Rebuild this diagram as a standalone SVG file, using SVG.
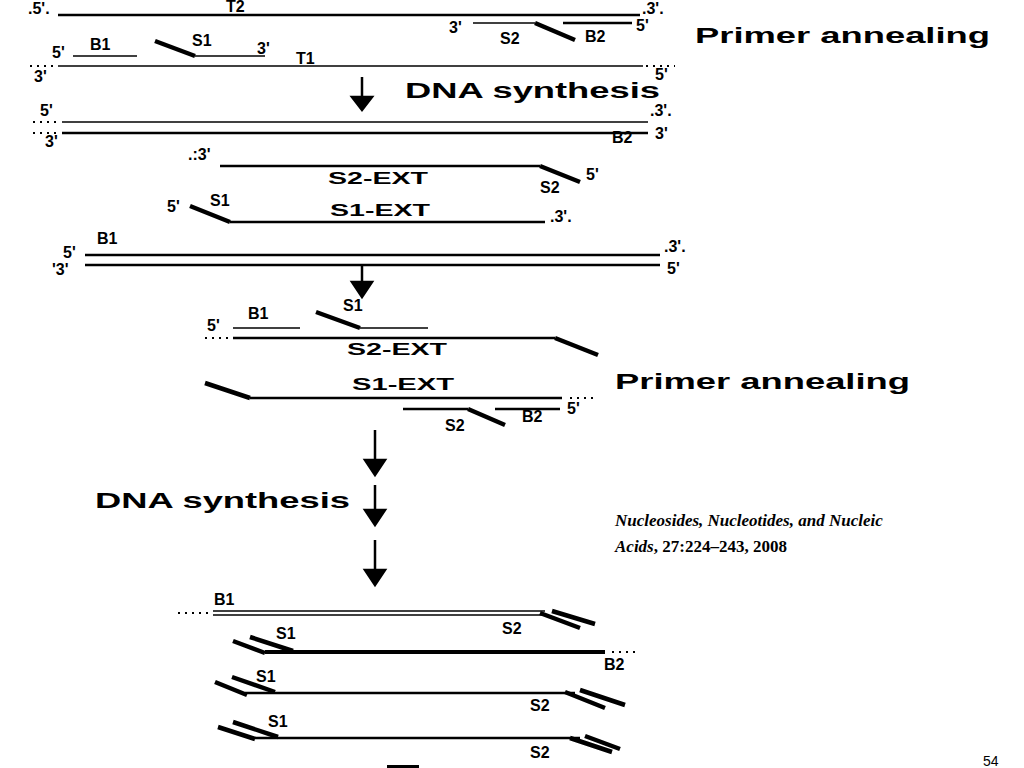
<svg xmlns="http://www.w3.org/2000/svg" width="1024" height="768" viewBox="0 0 1024 768">
<style>
.l{font-family:"Liberation Sans",Arial,sans-serif;font-weight:bold;font-size:16px;fill:#000}
.b{font-family:"Liberation Sans",Arial,sans-serif;font-weight:bold;font-size:22px;fill:#000}
.k{stroke:#000;fill:none;stroke-width:2.5}
.t{stroke:#000;fill:none;stroke-width:1.5}
.p{stroke:#000;fill:none;stroke-width:4.5}
.d{stroke:#000;fill:none;stroke-width:2;stroke-dasharray:2 5}
.c{font-family:"Liberation Serif","Times New Roman",serif;font-weight:bold;font-size:17px;fill:#000}
</style>
<rect width="1024" height="768" fill="#fff"/>
<g id="arrows" stroke="#000" stroke-width="2.5">
<line x1="362" y1="77" x2="362" y2="100"/><path d="M352,97 L372,97 L362,110 Z"/>
<line x1="362" y1="265" x2="362" y2="285"/><path d="M352,282 L372,282 L362,297 Z"/>
<line x1="375" y1="430" x2="375" y2="462"/><path d="M365,460 L385,460 L375,475 Z"/>
<line x1="375" y1="485" x2="375" y2="512"/><path d="M365,510 L385,510 L375,525 Z"/>
<line x1="375" y1="540" x2="375" y2="572"/><path d="M365,570 L385,570 L375,585 Z"/>
</g>
<g id="step1">
<line class="k" x1="58" y1="15" x2="640" y2="15"/>
<text class="l" x="28" y="14">.5'.</text><text class="l" x="226" y="12">T2</text><text class="l" x="642" y="14">.3'.</text>
<path class="t" d="M473,23 H535"/><path class="p" d="M535,23 L575,40"/><path class="k" d="M563,23 H632"/>
<text class="l" x="449" y="33">3'</text><text class="l" x="500" y="44">S2</text><text class="l" x="585" y="42">B2</text><text class="l" x="636" y="31">5'</text>
<path class="t" d="M73,56 H137"/><path class="p" d="M155,41 L195,56"/><path class="t" d="M195,56 H265"/>
<text class="l" x="52" y="58">5'</text><text class="l" x="90" y="50">B1</text><text class="l" x="192" y="46">S1</text><text class="l" x="257" y="54">3'</text><text class="l" x="296" y="64">T1</text>
<line class="t" x1="58" y1="66" x2="643" y2="66"/>
<path class="d" d="M30,66 H55 M646,66 H675"/>
<text class="l" x="34" y="82">3'</text><text class="l" x="655" y="80">5'</text>
<text class="b" x="695" y="43" textLength="295" lengthAdjust="spacingAndGlyphs">Primer annealing</text>
<text class="b" x="405" y="98" textLength="255" lengthAdjust="spacingAndGlyphs">DNA synthesis</text>
</g>
<g id="step2">
<line class="t" x1="62" y1="122" x2="648" y2="122"/><line class="k" x1="62" y1="133" x2="648" y2="133"/>
<path class="d" d="M33,122 H58 M33,133 H58"/>
<text class="l" x="40" y="116">5'</text><text class="l" x="45" y="147">3'</text><text class="l" x="650" y="116">.3'.</text><text class="l" x="655" y="139">3'</text><text class="l" x="612" y="143">B2</text>
<text class="l" x="188" y="160">.:3'</text>
<path class="k" d="M220,166 H540"/><path class="p" d="M540,166 L580,182"/>
<text class="l" x="328" y="184" textLength="100" lengthAdjust="spacingAndGlyphs">S2-EXT</text>
<text class="l" x="586" y="180">5'</text><text class="l" x="540" y="193">S2</text>
<text class="l" x="167" y="212">5'</text><text class="l" x="210" y="206">S1</text>
<path class="p" d="M190,206 L230,222"/><path class="k" d="M230,222 H545"/>
<text class="l" x="330" y="216" textLength="100" lengthAdjust="spacingAndGlyphs">S1-EXT</text><text class="l" x="550" y="222">.3'.</text>
<text class="l" x="97" y="244">B1</text>
<line class="k" x1="85" y1="255" x2="660" y2="255"/><line class="k" x1="85" y1="265" x2="660" y2="265"/>
<text class="l" x="63" y="258">5'</text><text class="l" x="52" y="275">'3'</text><text class="l" x="664" y="252">.3'.</text><text class="l" x="667" y="274">5'</text>
</g>
<g id="step3">
<text class="l" x="343" y="311">S1</text>
<path class="t" d="M233,328 H300"/><text class="l" x="207" y="331">5'</text><text class="l" x="248" y="319">B1</text>
<path class="p" d="M316,312 L360,328"/><path class="t" d="M360,328 H428"/>
<path class="k" d="M233,338 H555"/><path class="p" d="M555,338 L598,355"/><path class="d" d="M205,338 H230"/>
<text class="l" x="347" y="355" textLength="100" lengthAdjust="spacingAndGlyphs">S2-EXT</text>
<path class="p" d="M205,383 L250,398"/><path class="k" d="M250,398 H562"/><path class="d" d="M570,398 H597"/>
<text class="l" x="352" y="390" textLength="102" lengthAdjust="spacingAndGlyphs">S1-EXT</text>
<path class="k" d="M403,409 H468"/><path class="p" d="M468,409 L505,425"/><path class="k" d="M495,409 H560"/>
<text class="l" x="567" y="414">5'</text><text class="l" x="445" y="431">S2</text><text class="l" x="522" y="422">B2</text>
<text class="b" x="615" y="389" textLength="295" lengthAdjust="spacingAndGlyphs">Primer annealing</text>
<text class="b" x="95" y="508" textLength="255" lengthAdjust="spacingAndGlyphs">DNA synthesis</text>
</g>
<g id="citation">
<text class="c" x="615" y="526" font-style="italic">Nucleosides, Nucleotides, and Nucleic</text>
<text class="c" x="615" y="552"><tspan font-style="italic">Acids</tspan>, 27:224–243, 2008</text>
</g>
<g id="products">
<text class="l" x="214" y="605">B1</text>
<line class="t" x1="213" y1="611" x2="545" y2="611"/><line class="t" x1="213" y1="615" x2="545" y2="615"/>
<path class="d" d="M178,613 H210"/>
<path class="p" d="M540,613 L580,628 M552,611 L595,624"/>
<text class="l" x="502" y="634">S2</text>
<text class="l" x="276" y="639">S1</text>
<path class="p" d="M233,641 L265,653 M250,637 L293,651"/>
<line x1="265" y1="652" x2="605" y2="652" stroke="#000" stroke-width="4"/>
<path class="d" d="M612,652 H640"/><text class="l" x="604" y="670">B2</text>
<text class="l" x="256" y="682">S1</text>
<path class="p" d="M215,682 L247,695 M232,677 L275,692"/>
<line class="k" x1="245" y1="693" x2="575" y2="693"/>
<path class="p" d="M565,692 L605,708 M580,690 L625,705"/>
<text class="l" x="530" y="711">S2</text>
<text class="l" x="268" y="727">S1</text>
<path class="p" d="M218,727 L255,739 M233,722 L278,737"/>
<line class="k" x1="255" y1="738" x2="580" y2="738"/>
<path class="p" d="M570,738 L612,752 M585,736 L620,749"/>
<text class="l" x="530" y="758">S2</text>
<rect x="387" y="765" width="32" height="4" fill="#000"/>
</g>
<text x="983" y="766" font-family="'Liberation Sans',sans-serif" font-size="14" fill="#000">54</text>
</svg>
